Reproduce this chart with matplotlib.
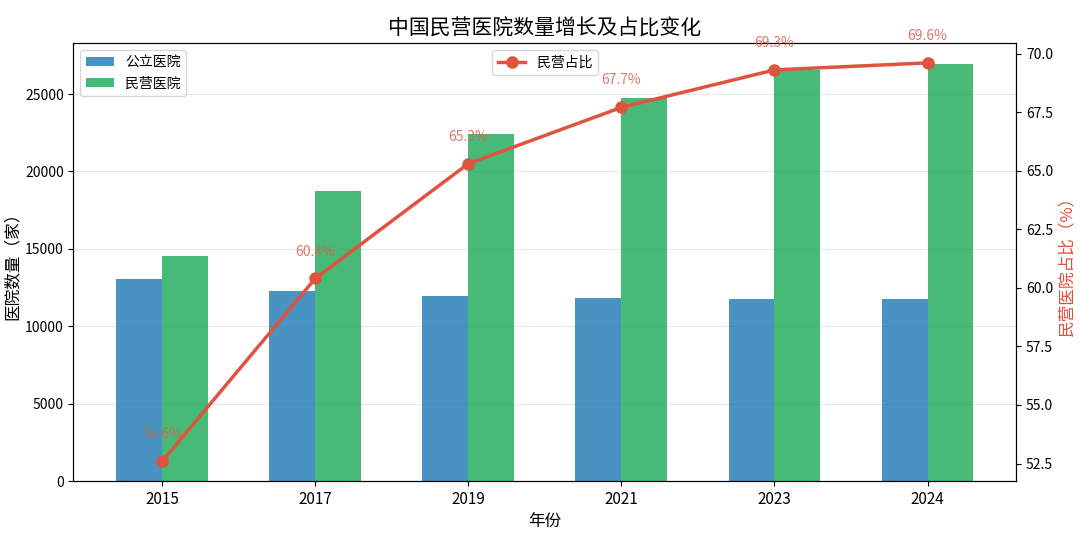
import matplotlib.pyplot as plt
import numpy as np

plt.rcParams['font.family'] = ['Noto Sans CJK SC', 'DejaVu Sans']
plt.rcParams['axes.unicode_minus'] = False

years = ['2015', '2017', '2019', '2021', '2023', '2024']
public = [13069, 12297, 11930, 11804, 11772, 11760]
private = [14518, 18759, 22424, 24766, 26573, 26950]
share = [52.6, 60.4, 65.3, 67.7, 69.3, 69.6]

x = np.arange(len(years))
w = 0.3

fig, ax = plt.subplots(figsize=(10.8, 5.37), dpi=100)
ax.bar(x - w / 2, public, w, color='#2980b9', alpha=0.85, label='公立医院')
ax.bar(x + w / 2, private, w, color='#27ae60', alpha=0.85, label='民营医院')
ax.set_ylim(0, max(private) * 1.05)
ax.set_xticks(x)
ax.set_xticklabels(years, fontsize=11)
ax.tick_params(axis='y', labelsize=10)
ax.set_xlabel('年份', fontsize=12)
ax.set_ylabel('医院数量（家）', fontsize=12, labelpad=3)
ax.grid(axis='y', alpha=0.3)
ax.set_axisbelow(True)
ax.legend(loc='upper left', fontsize=10)

ax2 = ax.twinx()
ax2.plot(x, share, color='#e0533f', linewidth=2.5, marker='o', markersize=8, label='民营占比')
for xi, s in zip(x, share):
    ax2.text(xi, s + 0.85, f'{s}%', ha='center', va='bottom', fontsize=10,
             color='#d9604f', alpha=0.85)
ax2.tick_params(axis='y', labelsize=10)
ax2.set_ylabel('民营医院占比（%）', fontsize=12, color='#e74c3c')
ax2.legend(loc='upper center', fontsize=10)

ax.set_title('中国民营医院数量增长及占比变化', fontsize=15)
fig.subplots_adjust(left=0.068, right=0.941, top=0.92, bottom=0.104)
plt.savefig('out.png')
